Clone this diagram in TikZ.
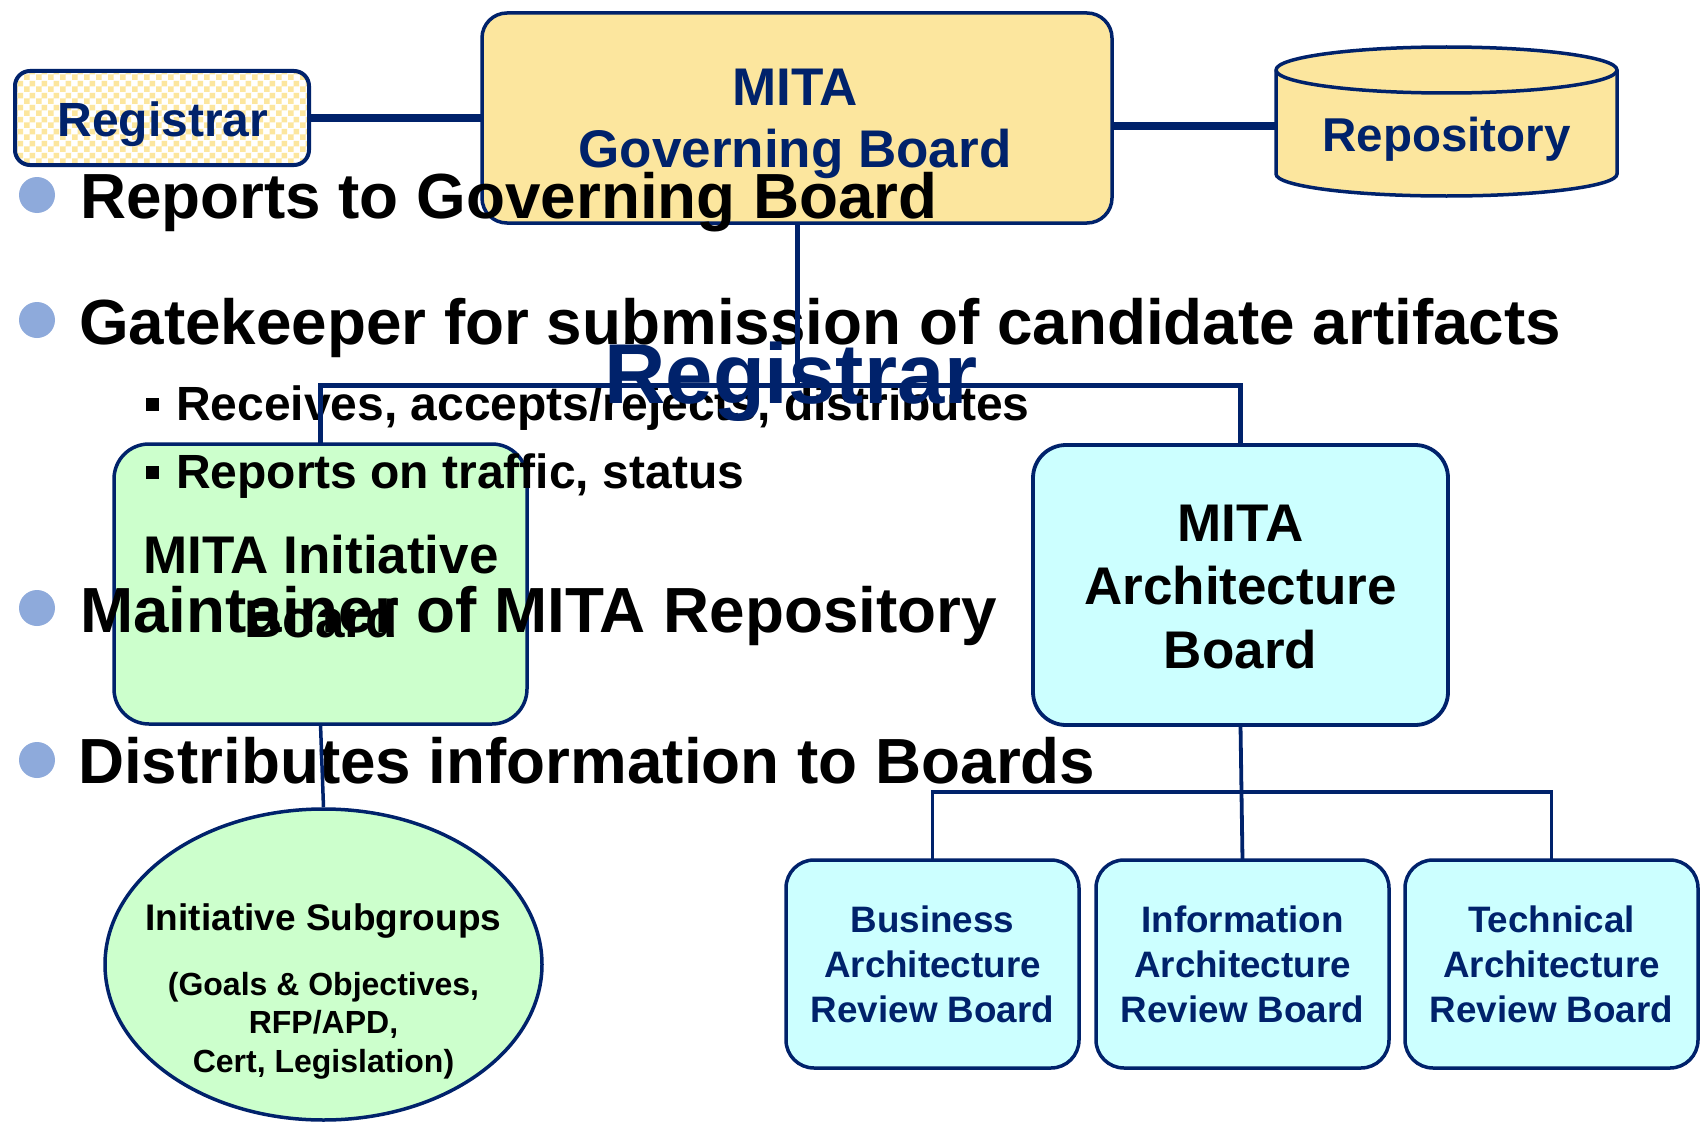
\documentclass[tikz,border=0pt]{standalone}
\usepackage{fontspec}
\setmainfont{Liberation Sans}
\usetikzlibrary{patterns,shapes.geometric}
\definecolor{navy}{RGB}{0,34,107}
\definecolor{paleyellow}{RGB}{252,230,158}
\definecolor{palegreen}{RGB}{204,255,204}
\definecolor{palecyan}{RGB}{204,255,255}
\definecolor{bulletblue}{RGB}{142,170,219}
\pgfdeclarepatternformonly{checkersix}{\pgfpointorigin}{\pgfqpoint{12pt}{12pt}}{\pgfqpoint{12pt}{12pt}}{%
  \pgfpathrectangle{\pgfpointorigin}{\pgfqpoint{6pt}{6pt}}%
  \pgfpathrectangle{\pgfqpoint{6pt}{6pt}}{\pgfqpoint{6pt}{6pt}}%
  \pgfusepath{fill}}
\newcommand{\myfs}[2]{\fontsize{#1}{#2}\selectfont\bfseries}
\begin{document}
\begin{tikzpicture}[x=1pt,y=-1pt,
  boxshape/.style={draw=navy, rectangle, inner sep=0pt, outer sep=0pt},
  txt/.style={inner sep=0pt, outer sep=0pt, anchor=base},
  bigtxt/.style={txt, anchor=base west, font=\myfs{63.8}{77}},
  subtxt/.style={txt, anchor=base west, font=\myfs{48}{58}},
  dot/.style={circle, fill=bulletblue, minimum size=36pt, inner sep=0pt},
  sq/.style={rectangle, fill=black, minimum size=13pt, inner sep=0pt},
  revbox/.style={boxshape, line width=3.5pt, rounded corners=28pt, fill=palecyan, minimum width=293pt, minimum height=208pt},
  revtxt/.style={txt, text=navy, font=\myfs{36.8}{45}},
  thickconn/.style={draw=navy, line width=7.5pt},
  midconn/.style={draw=navy, line width=5pt},
  thinconn/.style={draw=navy, line width=3.8pt}
]
\fill[white] (0,0) rectangle (1701,1124);
\useasboundingbox (0,0) rectangle (1701,1124);

% ---- boxes ----
\node[boxshape, line width=4pt, rounded corners=15pt, minimum width=294pt, minimum height=94pt,
      preaction={fill=white}, pattern=checkersix, pattern color=paleyellow] (reg) at (162,118) {};
\node[txt, text=navy, font=\myfs{48}{57}] (regtxt) at (163,136) {Registrar};

\node[boxshape, line width=3.5pt, rounded corners=25pt, fill=paleyellow, minimum width=630pt, minimum height=210pt] (gov) at (797,118) {};
\node[txt, text=navy, font=\myfs{53}{62}] (govtxt) at (795,106) {\begin{tabular}[t]{@{}c@{}}MITA\\Governing Board\end{tabular}};

% repository cylinder
\path[draw=navy, line width=3.5pt, fill=paleyellow]
  (1276,70) -- (1276,174) arc[start angle=180, end angle=0, x radius=170.5, y radius=22]
  -- (1617,70) arc[start angle=0, end angle=-180, x radius=170.5, y radius=23] -- cycle;
\draw[navy, line width=3.5pt] (1276,70) arc[start angle=180, end angle=0, x radius=170.5, y radius=23];
\node[txt, text=navy, font=\myfs{47.5}{57}, minimum width=341pt] (repo) at (1446.5,151) {Repository};

\node[boxshape, line width=3.5pt, rounded corners=35pt, fill=palegreen, minimum width=413pt, minimum height=280pt] (init) at (320.5,584) {};
\node[txt, font=\myfs{53}{64}] (inittxt) at (321,573) {\begin{tabular}[t]{@{}c@{}}MITA Initiative\\Board\end{tabular}};

\node[boxshape, line width=3.8pt, rounded corners=33pt, fill=palecyan, minimum width=415pt, minimum height=280pt] (arch) at (1240.5,585) {};
\node[txt, font=\myfs{53}{63.5}] (archtxt) at (1240.5,541) {\begin{tabular}[t]{@{}c@{}}MITA\\Architecture\\Board\end{tabular}};

\node[ellipse, draw=navy, line width=3.5pt, fill=palegreen, minimum width=437pt, minimum height=311pt, inner sep=0pt] (ell) at (323.5,964.5) {};
\node[txt, font=\myfs{37}{44}] (elltxt) at (323.5,930) {Initiative Subgroups};
\node[txt, font=\myfs{32}{38.5}] (elltxtb) at (323.5,995) {\begin{tabular}[t]{@{}c@{}}(Goals \& Objectives,\\RFP/APD,\\Cert, Legislation)\end{tabular}};

\node[revbox] (biz) at (932.5,964) {};
\node[revbox] (info) at (1242.5,964) {};
\node[revbox] (tech) at (1551.5,964) {};
\node[revtxt] (biztxt) at (932.5,932) {\begin{tabular}[t]{@{}c@{}}Business\\Architecture\\Review Board\end{tabular}};
\node[revtxt] (infotxt) at (1242.5,932) {\begin{tabular}[t]{@{}c@{}}Information\\Architecture\\Review Board\end{tabular}};
\node[revtxt] (techtxt) at (1551.5,932) {\begin{tabular}[t]{@{}c@{}}Technical\\Architecture\\Review Board\end{tabular}};

% ---- bullet text ----
\node[dot] (d1) at (37,195) {};
\node[bigtxt] (b1) at (80,218) {Reports to Governing Board};
\node[dot] (d2) at (37,320) {};
\node[bigtxt] (b2) at (79,344) {Gatekeeper for submission of candidate artifacts};
\node[sq] (s1) at (152.5,404) {};
\node[subtxt] (t1) at (176,420) {Receives, accepts/rejects, distributes};
\node[sq] (s2) at (152.5,472) {};
\node[subtxt] (t2) at (176,488) {Reports on traffic, status};
\node[dot] (d3) at (37,608) {};
\node[bigtxt] (b3) at (80,632) {Maintainer of MITA Repository};
\node[dot] (d4) at (37,760) {};
\node[bigtxt] (b4) at (78,783) {Distributes information to Boards};

% ---- connectors ----
\coordinate (govR) at ([yshift=-8pt]gov.east);
\coordinate (jA) at (797,385);
\coordinate (jB) at (1241,792);
\draw[thickconn] (reg.east) -- (gov.west);
\draw[thickconn] (govR) -- (govR -| repo.west);
\draw[midconn] (gov.south) -- (jA);
\draw[midconn] (init.north) |- (jA) -| (arch.north);
\draw[thinconn] (arch.south) -- (info.north);
\draw[thinconn] (biz.north) |- (jB) -| (tech.north);
\draw[draw=navy, line width=3.5pt] (init.south) -- (ell.north);

% ---- title ----
\node[txt, text=navy, font=\myfs{85}{100}] (title) at (791,403) {Registrar};
\end{tikzpicture}
\end{document}
